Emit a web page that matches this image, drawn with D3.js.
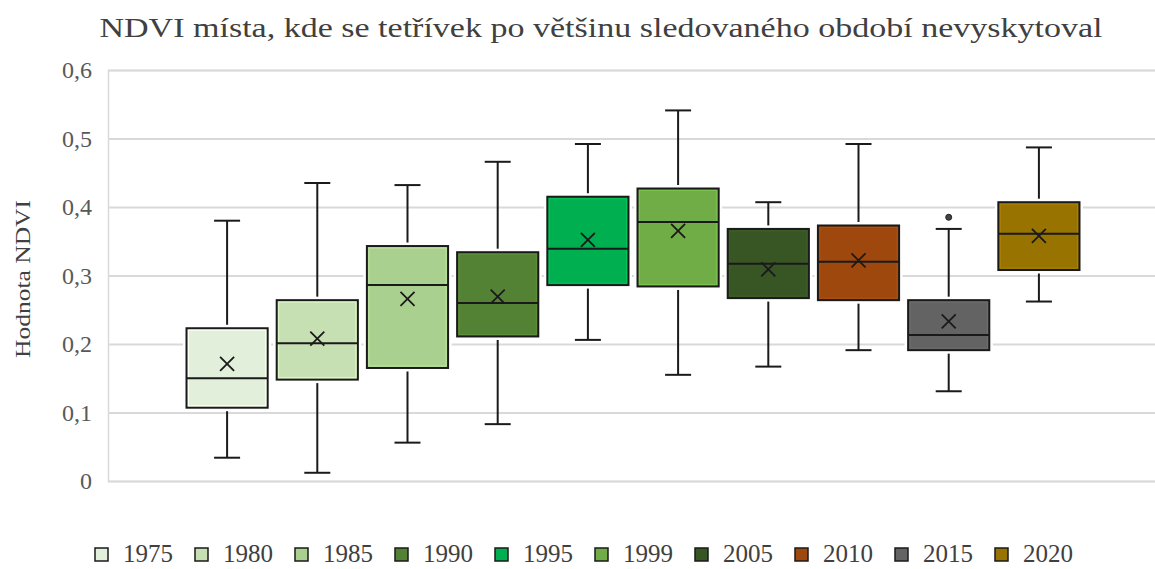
<!DOCTYPE html>
<html lang="cs">
<head>
  <meta charset="utf-8"/>
  <title>NDVI místa – boxplot</title>
  <script src="https://cdn.jsdelivr.net/npm/d3@7/dist/d3.min.js"></script>
  <style>
    html,body { margin:0; padding:0; background:#fff; overflow:hidden; }
    svg { display:block; font-family:"Liberation Serif","Times New Roman",serif; }
  </style>
</head>
<body>
  <svg width="1155" height="569"></svg>
  <script>
  // data
  const years      = ["1975","1980","1985","1990","1995","1999","2005","2010","2015","2020"];
  const colors     = ["#e2efda","#c6e0b4","#a9d08e","#548235","#00b050","#70ad47","#375623","#9e480e","#636363","#997300"];
  const whiskerLow = [0.034, 0.012, 0.056, 0.083, 0.206, 0.155, 0.167, 0.191, 0.131, 0.262];
  const q1         = [0.107, 0.148, 0.165, 0.211, 0.286, 0.284, 0.267, 0.264, 0.191, 0.308];
  const median     = [0.150, 0.201, 0.286, 0.260, 0.339, 0.378, 0.317, 0.320, 0.213, 0.361];
  const q3         = [0.223, 0.264, 0.343, 0.334, 0.415, 0.427, 0.368, 0.373, 0.264, 0.407];
  const whiskerHigh= [0.380, 0.435, 0.432, 0.466, 0.492, 0.541, 0.407, 0.492, 0.368, 0.487];
  const means      = [0.171, 0.208, 0.266, 0.269, 0.352, 0.365, 0.309, 0.322, 0.233, 0.358];
  const outliers   = [[], [], [], [], [], [], [], [], [0.385], []];
  const yTicks     = [0, 0.1, 0.2, 0.3, 0.4, 0.5, 0.6];

  const svg = d3.select("svg");
  const plotL = 108, plotR = 1155, plotT = 70, plotB = 481;

  const y = d3.scaleLinear().domain([0, 0.6]).range([plotB, plotT]);
  const x = d3.scaleBand().domain(years).range([186.5, 1079.5]).paddingInner(0.1);
  const fmt = d => d === 0 ? "0" : d3.format(".1f")(d).replace(".", ",");

  // title
  svg.append("text")
    .attr("x", 601).attr("y", 37)
    .attr("text-anchor", "middle")
    .attr("font-size", 27).attr("fill", "#404040")
    .attr("textLength", 1003).attr("lengthAdjust", "spacingAndGlyphs")
    .text("NDVI místa, kde se tetřívek po většinu sledovaného období nevyskytoval");

  // y axis label
  svg.append("text")
    .attr("transform", "translate(30,279) rotate(-90)")
    .attr("text-anchor", "middle")
    .attr("font-size", 22).attr("fill", "#404040")
    .attr("textLength", 158).attr("lengthAdjust", "spacingAndGlyphs")
    .text("Hodnota NDVI");

  // gridlines + axis
  const yAxis = d3.axisLeft(y).tickValues(yTicks).tickFormat(fmt).tickSize(-(plotR - plotL)).tickPadding(16);
  const ga = svg.append("g").attr("transform", `translate(${plotL},0)`).call(yAxis);
  ga.select(".domain").attr("stroke", "#d9d9d9").attr("stroke-width", 1.5);
  ga.selectAll(".tick line").attr("stroke", "#d9d9d9").attr("stroke-width", 2);
  ga.selectAll(".tick text")
    .attr("font-family", "Liberation Serif, serif")
    .attr("font-size", 24).attr("fill", "#595959");

  // boxes
  const g = svg.append("g");
  const bw = x.bandwidth();
  years.forEach((yr, i) => {
    const cx = x(yr) + bw / 2;
    const b = g.append("g");
    // whiskers
    b.append("line").attr("x1", cx).attr("x2", cx)
      .attr("y1", y(whiskerHigh[i])).attr("y2", y(q3[i]))
      .attr("stroke", "#1a1a1a").attr("stroke-width", 2);
    b.append("line").attr("x1", cx).attr("x2", cx)
      .attr("y1", y(q1[i])).attr("y2", y(whiskerLow[i]))
      .attr("stroke", "#1a1a1a").attr("stroke-width", 2);
    [whiskerHigh[i], whiskerLow[i]].forEach(v => {
      b.append("line").attr("x1", cx - 13).attr("x2", cx + 13)
        .attr("y1", y(v)).attr("y2", y(v))
        .attr("stroke", "#1a1a1a").attr("stroke-width", 2);
    });
    // white halo then box
    b.append("rect")
      .attr("x", x(yr)).attr("y", y(q3[i]))
      .attr("width", bw).attr("height", y(q1[i]) - y(q3[i]))
      .attr("fill", "none").attr("stroke", "#fff").attr("stroke-width", 7);
    b.append("rect")
      .attr("x", x(yr)).attr("y", y(q3[i]))
      .attr("width", bw).attr("height", y(q1[i]) - y(q3[i]))
      .attr("fill", colors[i]).attr("stroke", "#1a1a1a").attr("stroke-width", 2);
    b.append("rect")
      .attr("x", x(yr) + 2).attr("y", y(q3[i]) + 2)
      .attr("width", bw - 4).attr("height", y(q1[i]) - y(q3[i]) - 4)
      .attr("fill", "none").attr("stroke", d3.color(colors[i]).brighter(0.3)).attr("stroke-width", 1);
    // median
    b.append("line").attr("x1", x(yr)).attr("x2", x(yr) + bw)
      .attr("y1", y(median[i])).attr("y2", y(median[i]))
      .attr("stroke", "#1a1a1a").attr("stroke-width", 2);
    // mean marker
    const my = y(means[i]), s = 7;
    b.append("path")
      .attr("d", `M${cx - s},${my - s}L${cx + s},${my + s}M${cx - s},${my + s}L${cx + s},${my - s}`)
      .attr("stroke", "#1a1a1a").attr("stroke-width", 1.8).attr("fill", "none");
    // outliers
    outliers[i].forEach(v => {
      b.append("circle").attr("cx", cx).attr("cy", y(v)).attr("r", 3)
        .attr("fill", "#444").attr("stroke", "#222").attr("stroke-width", 1);
    });
  });

  // legend
  const lg = svg.append("g").attr("transform", "translate(95,554)");
  years.forEach((yr, i) => {
    const it = lg.append("g").attr("transform", `translate(${i * 100},0)`);
    it.append("rect").attr("x", 0).attr("y", -6).attr("width", 13).attr("height", 13)
      .attr("fill", colors[i]).attr("stroke", "#1a1a1a").attr("stroke-width", 1.5);
    it.append("text").attr("x", 28).attr("y", 8)
      .attr("font-size", 25).attr("fill", "#404040")
      .text(yr);
  });
  </script>
</body>
</html>
